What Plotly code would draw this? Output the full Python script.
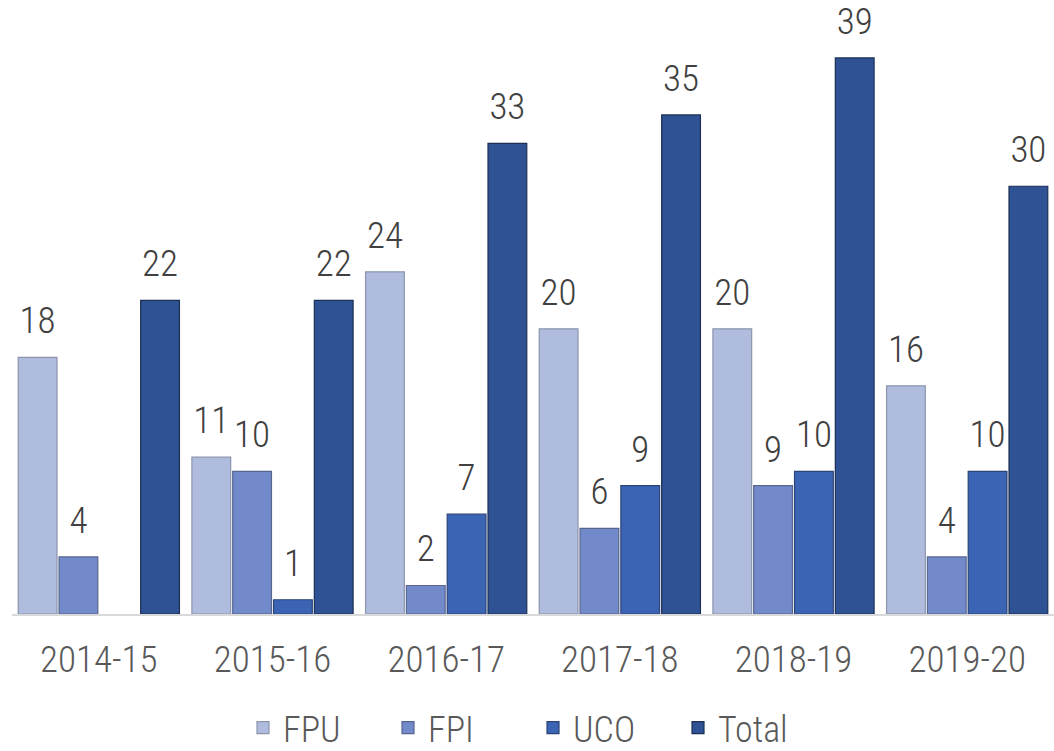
import plotly.graph_objects as go

years = ["2014-15", "2015-16", "2016-17", "2017-18", "2018-19", "2019-20"]
fpu = [18, 11, 24, 20, 20, 16]
fpi = [4, 10, 2, 6, 9, 4]
uco = [None, 1, 7, 9, 10, 10]
total = [22, 22, 33, 35, 39, 30]

series = [
    ("FPU", fpu, "#B0BCDE", "#8C95AC"),
    ("FPI", fpi, "#7289CA", "#56668F"),
    ("UCO", uco, "#3C64B4", "#2B4478"),
    ("Total", total, "#2E5293", "#1C2F55"),
]

FONT = "Roboto Condensed, Liberation Sans Narrow, Arial Narrow, sans-serif"
GAP = 0.06

fig = go.Figure()
for name, vals, color, edge in series:
    fig.add_trace(go.Bar(
        name=name,
        x=years,
        y=vals,
        marker=dict(color=color, line=dict(color=edge, width=1.2)),
        offsetgroup=name,
    ))

# value labels, grouped alongside the bars and lifted above each bar top
for name, vals, color, edge in series:
    fig.add_trace(go.Scatter(
        x=years,
        y=vals,
        mode="markers+text",
        text=[("" if v is None else str(v)) for v in vals],
        textposition="top center",
        textfont=dict(size=37, color="#404040", family=FONT, weight=300),
        marker=dict(size=22, opacity=0),
        offsetgroup=name,
        showlegend=False,
        hoverinfo="skip",
        cliponaxis=False,
    ))

fig.update_layout(
    width=1054,
    height=751,
    barmode="group",
    scattermode="group",
    bargap=GAP,
    scattergap=GAP,
    bargroupgap=0.05,
    plot_bgcolor="white",
    paper_bgcolor="white",
    margin=dict(l=12, r=0, t=10, b=137, autoexpand=False),
    xaxis=dict(
        showgrid=False,
        showline=True,
        linecolor="#D9D9D9",
        linewidth=2,
        ticks="",
        ticklabelstandoff=12,
        automargin=False,
        tickfont=dict(size=37, color="#595959", family=FONT, weight=300),
    ),
    yaxis=dict(
        range=[0, 42.36],
        showgrid=False,
        zeroline=False,
        showticklabels=False,
        showline=False,
        automargin=False,
    ),
    legend=dict(
        orientation="h",
        x=0.5,
        xanchor="center",
        yref="container",
        y=0.031,
        yanchor="middle",
        font=dict(size=36, color="#595959", family=FONT, weight=300),
        itemwidth=30,
        entrywidth=100,
    ),
    showlegend=True,
)

fig.write_html("out.html")
